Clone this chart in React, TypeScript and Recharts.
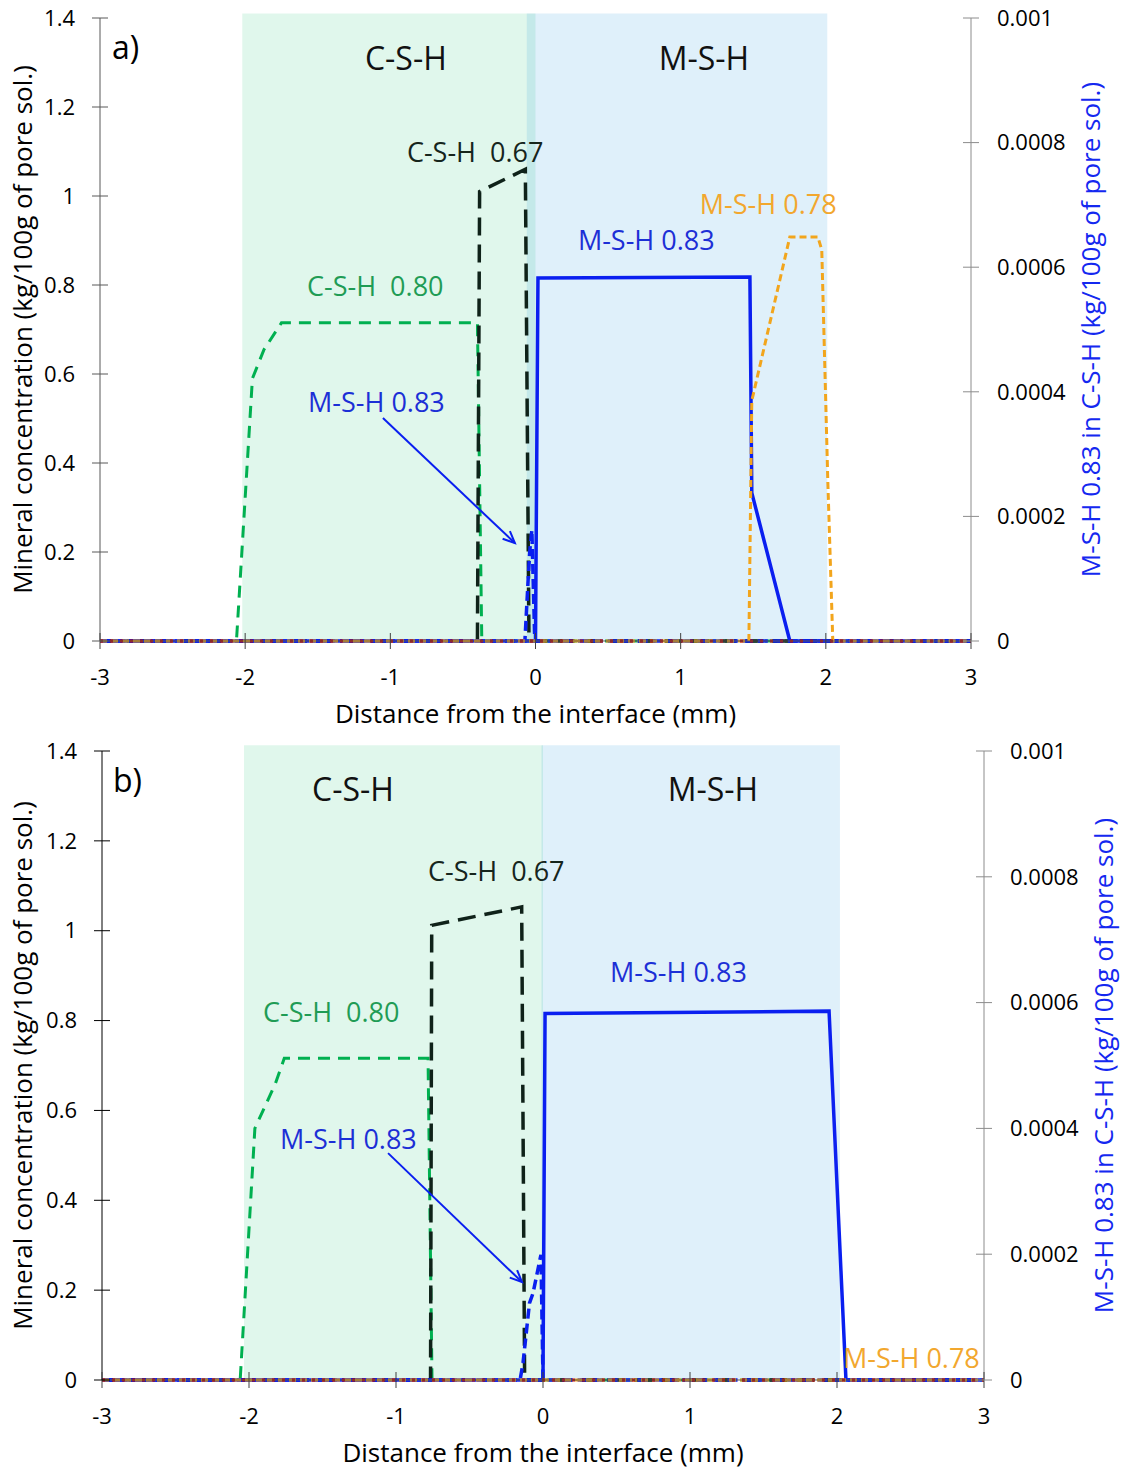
import React from 'react';
import {
  LineChart,
  Line,
  XAxis,
  YAxis,
  Label,
  ReferenceArea,
  ReferenceDot,
  ReferenceLine,
} from 'recharts';

// [x (mm), value] pairs
const xTicks = [-3, -2, -1, 0, 1, 2, 3];
const leftTicks = [0, 0.2, 0.4, 0.6, 0.8, 1, 1.2, 1.4];
const rightTicks = [0, 0.0002, 0.0004, 0.0006, 0.0008, 0.001];

// panel a)
const aCsh080 = [[-3, 0], [-2.06, 0], [-1.95, 0.59], [-1.87, 0.655], [-1.75, 0.715], [-0.4, 0.715], [-0.37, 0], [3, 0]];
const aCsh067 = [[-3, 0], [-0.4, 0], [-0.385, 1.01], [-0.07, 1.06], [-0.045, 0], [3, 0]];
const aMsh083 = [[-3, 0], [0, 0], [0.017, 0.816], [1.477, 0.818], [1.49, 0.333], [1.752, 0], [3, 0]];
const aMsh083InCsh = [[-3, 0], [-0.073, 0], [-0.052, 0.000093], [-0.039, 0.000146], [-0.025, 0.000178], [-0.005, 0], [3, 0]];
const aMsh078 = [[-3, 0], [1.47, 0], [1.49, 0.54], [1.752, 0.908], [1.945, 0.908], [1.972, 0.879], [2.014, 0.355], [2.048, 0], [3, 0]];
const aOther = [[-3, 0], [3, 0]];

// panel b)
const bCsh080 = [[-3, 0], [-2.06, 0], [-1.96, 0.56], [-1.82, 0.66], [-1.76, 0.716], [-0.782, 0.716], [-0.755, 0], [3, 0]];
const bCsh067 = [[-3, 0], [-0.765, 0], [-0.757, 1.012], [-0.145, 1.053], [-0.125, 0], [3, 0]];
const bMsh083 = [[-3, 0], [0, 0], [0.014, 0.816], [1.946, 0.821], [2.061, 0], [3, 0]];
const bMsh083InCsh = [[-3, 0], [-0.156, 0], [-0.136, 0.000027], [-0.092, 0.000122], [-0.068, 0.000138], [-0.014, 0.000199], [0, 0], [3, 0]];
const bMsh078 = [[-3, 0], [3, 0]];
const bOther = [[-3, 0], [3, 0]];

const toPts = (rows: number[][]) => rows.map(([x, y]) => ({ x, y }));

const FONT = '"Open Sans", "Noto Sans", sans-serif';
const TS = 8;

const GREEN = '#00b050';
const GREEN_TXT = '#1f9c55';
const BLACK_LINE = '#0f2219';
const BLUE = '#0a1ff0';
const BLUE_TXT = '#1c2fd6';
const ORANGE = '#f2a51c';
const ORANGE_TXT = '#f2a72e';
const RED = '#c00000';

function makeLeftTick(color: string, margin: number) {
  return (p: any) => (
    <g>
      <line x1={p.x + margin} x2={p.x + margin + 2 * TS} y1={p.y} y2={p.y} stroke={color} />
      <text x={p.x} y={p.y} dy="0.35em" textAnchor="end" fontSize={22} fill="#000">
        {p.payload.value}
      </text>
    </g>
  );
}

function makeRightTick(color: string, margin: number) {
  return (p: any) => (
    <g>
      <line x1={p.x - margin - 2 * TS} x2={p.x - margin} y1={p.y} y2={p.y} stroke={color} />
      <text x={p.x} y={p.y} dy="0.35em" textAnchor="start" fontSize={22} fill="#000">
        {p.payload.value}
      </text>
    </g>
  );
}

function makeBottomTick(color: string, margin: number) {
  return (p: any) => (
    <g>
      <line x1={p.x} x2={p.x} y1={p.y - margin} y2={p.y - margin - 2 * TS} stroke={color} />
      <text x={p.x} y={p.y} dy="0.35em" textAnchor="middle" fontSize={22} fill="#000">
        {p.payload.value}
      </text>
    </g>
  );
}

const vTitle = (text: string, dx: number, color: string) => (p: any) => {
  const vb = p.viewBox;
  const cx = vb.x + dx;
  const cy = vb.y + vb.height / 2;
  return (
    <text x={cx} y={cy} transform={`rotate(-90 ${cx} ${cy})`} textAnchor="middle" dominantBaseline="central" fontSize={26} fill={color}>
      {text}
    </text>
  );
};

const hTitle = (text: string, dy: number) => (p: any) => {
  const vb = p.viewBox;
  return (
    <text x={vb.x + vb.width / 2} y={vb.y + dy} textAnchor="middle" dominantBaseline="central" fontSize={26} fill="#000">
      {text}
    </text>
  );
};

const textShape = (text: string, color: string, size: number, anchor: string) => (p: any) => (
  <text x={p.cx} y={p.cy} textAnchor={anchor} dominantBaseline="central" fontSize={size} fill={color} style={{ whiteSpace: 'pre' }}>
    {text}
  </text>
);

const arrowShape = (p: any) => {
  const { x1, y1, x2, y2 } = p;
  const ang = Math.atan2(y2 - y1, x2 - x1);
  const len = 13;
  const a1 = ang + Math.PI - 0.42;
  const a2 = ang + Math.PI + 0.42;
  return (
    <g stroke={BLUE} strokeWidth={2} fill="none">
      <line x1={x1} y1={y1} x2={x2} y2={y2} />
      <polyline points={`${x2 + len * Math.cos(a1)},${y2 + len * Math.sin(a1)} ${x2},${y2} ${x2 + len * Math.cos(a2)},${y2 + len * Math.sin(a2)}`} />
    </g>
  );
};

type Ann = { t: string; x: number; y: number; c: string; s: number; a: string };

type PanelProps = {
  height: number;
  margin: { top: number; right: number; bottom: number; left: number };
  rightWidth: number;
  leftAxisColor: string;
  leftTitleDx: number;
  csh080: number[][];
  csh067: number[][];
  msh083: number[][];
  msh083InCsh: number[][];
  msh078: number[][];
  other: number[][];
  cshZone: [number, number];
  mshZone: [number, number];
  zoneTop: number;
  labels: Ann[];
  arrow: [{ x: number; y: number }, { x: number; y: number }];
};

function Panel(props: PanelProps) {
  const lm = 17;
  const rm = 18;
  const bm = 28;
  return (
    <LineChart width={1123} height={props.height} margin={props.margin}>
      <XAxis
        dataKey="x"
        type="number"
        domain={[-3, 3]}
        ticks={xTicks}
        interval={0}
        height={70}
        tickSize={TS}
        tickMargin={bm}
        tickLine={false}
        axisLine={{ stroke: '#595959' }}
        tick={makeBottomTick('#404040', bm)}
      >
        <Label content={hTitle('Distance from the interface (mm)', 72)} />
      </XAxis>
      <YAxis
        yAxisId="left"
        domain={[0, 1.4]}
        ticks={leftTicks}
        interval={0}
        width={60}
        tickSize={TS}
        tickMargin={lm}
        tickLine={false}
        axisLine={{ stroke: props.leftAxisColor }}
        tick={makeLeftTick(props.leftAxisColor, lm)}
      >
        <Label content={vTitle('Mineral concentration (kg/100g of pore sol.)', props.leftTitleDx, '#000')} />
      </YAxis>
      <YAxis
        yAxisId="right"
        orientation="right"
        domain={[0, 0.001]}
        ticks={rightTicks}
        interval={0}
        width={props.rightWidth}
        tickSize={TS}
        tickMargin={rm}
        tickLine={false}
        axisLine={{ stroke: '#8c8c8c' }}
        tick={makeRightTick('#8c8c8c', rm)}
      >
        <Label content={vTitle('M-S-H 0.83 in C-S-H (kg/100g of pore sol.)', 119, '#1428f0')} />
      </YAxis>

      <ReferenceArea yAxisId="left" x1={props.cshZone[0]} x2={props.cshZone[1]} y1={0} y2={props.zoneTop} fill="rgb(0,188,97)" fillOpacity={0.12} stroke="none" ifOverflow="visible" />
      <ReferenceArea yAxisId="left" x1={props.mshZone[0]} x2={props.mshZone[1]} y1={0} y2={props.zoneTop} fill="rgb(42,155,222)" fillOpacity={0.15} stroke="none" ifOverflow="visible" />

      <Line yAxisId="left" data={toPts(props.csh080)} dataKey="y" type="linear" stroke={GREEN} strokeWidth={3} strokeDasharray="12 8" dot={false} activeDot={false} isAnimationActive={false} />
      <Line yAxisId="left" data={toPts(props.csh067)} dataKey="y" type="linear" stroke={BLACK_LINE} strokeWidth={3.5} strokeDasharray="18 9" dot={false} activeDot={false} isAnimationActive={false} />
      <Line yAxisId="left" data={toPts(props.msh083)} dataKey="y" type="linear" stroke={BLUE} strokeWidth={3.5} dot={false} activeDot={false} isAnimationActive={false} />
      <Line yAxisId="right" data={toPts(props.msh083InCsh)} dataKey="y" type="linear" stroke={BLUE} strokeWidth={3.5} strokeDasharray="10 5" dot={false} activeDot={false} isAnimationActive={false} />
      <Line yAxisId="left" data={toPts(props.msh078)} dataKey="y" type="linear" stroke={ORANGE} strokeWidth={3} strokeDasharray="7 4" dot={false} activeDot={false} isAnimationActive={false} />
      <Line yAxisId="left" data={toPts(props.other)} dataKey="y" type="linear" stroke={RED} strokeWidth={3} strokeDasharray="3 7" dot={false} activeDot={false} isAnimationActive={false} />

      <ReferenceLine yAxisId="left" segment={props.arrow} stroke={BLUE} shape={arrowShape} ifOverflow="visible" />

      {props.labels.map((l, i) => (
        <ReferenceDot key={i} yAxisId="left" x={l.x} y={l.y} r={0} ifOverflow="visible" shape={textShape(l.t, l.c, l.s, l.a)} />
      ))}
    </LineChart>
  );
}

const aLabels: Ann[] = [
  { t: 'a)', x: -2.917, y: 1.335, c: '#000', s: 32, a: 'start' },
  { t: 'C-S-H', x: -0.893, y: 1.312, c: '#111', s: 32, a: 'middle' },
  { t: 'M-S-H', x: 1.16, y: 1.312, c: '#111', s: 32, a: 'middle' },
  { t: 'C-S-H  0.67', x: -0.886, y: 1.099, c: '#16251c', s: 27, a: 'start' },
  { t: 'M-S-H 0.78', x: 1.132, y: 0.984, c: ORANGE_TXT, s: 27, a: 'start' },
  { t: 'M-S-H 0.83', x: 0.292, y: 0.903, c: BLUE_TXT, s: 27, a: 'start' },
  { t: 'C-S-H  0.80', x: -1.574, y: 0.8, c: GREEN_TXT, s: 27, a: 'start' },
  { t: 'M-S-H 0.83', x: -1.567, y: 0.539, c: BLUE_TXT, s: 27, a: 'start' },
];

const bLabels: Ann[] = [
  { t: 'b)', x: -2.925, y: 1.337, c: '#000', s: 32, a: 'start' },
  { t: 'C-S-H', x: -1.293, y: 1.317, c: '#111', s: 32, a: 'middle' },
  { t: 'M-S-H', x: 1.156, y: 1.317, c: '#111', s: 32, a: 'middle' },
  { t: 'C-S-H  0.67', x: -0.782, y: 1.135, c: '#16251c', s: 27, a: 'start' },
  { t: 'M-S-H 0.83', x: 0.456, y: 0.91, c: BLUE_TXT, s: 27, a: 'start' },
  { t: 'C-S-H  0.80', x: -1.905, y: 0.821, c: GREEN_TXT, s: 27, a: 'start' },
  { t: 'M-S-H 0.83', x: -1.789, y: 0.538, c: BLUE_TXT, s: 27, a: 'start' },
  { t: 'M-S-H 0.78', x: 2.041, y: 0.049, c: ORANGE_TXT, s: 27, a: 'start' },
];

export default function App() {
  return (
    <div style={{ position: 'absolute', left: 0, top: 0, width: 1123, height: 1471, background: '#fff', fontFamily: FONT }}>
      <Panel
        height={730}
        margin={{ top: 18, right: 0, bottom: 19, left: 40 }}
        rightWidth={152}
        leftAxisColor="#595959"
        leftTitleDx={-18}
        csh080={aCsh080}
        csh067={aCsh067}
        msh083={aMsh083}
        msh083InCsh={aMsh083InCsh}
        msh078={aMsh078}
        other={aOther}
        cshZone={[-2.02, 0]}
        mshZone={[-0.06, 2.01]}
        zoneTop={1.41}
        labels={aLabels}
        arrow={[{ x: -1.051, y: 0.501 }, { x: -0.142, y: 0.22 }]}
      />
      <Panel
        height={741}
        margin={{ top: 21, right: 0, bottom: 21, left: 42 }}
        rightWidth={139}
        leftAxisColor="#000"
        leftTitleDx={-20}
        csh080={bCsh080}
        csh067={bCsh067}
        msh083={bMsh083}
        msh083InCsh={bMsh083InCsh}
        msh078={bMsh078}
        other={bOther}
        cshZone={[-2.034, 0]}
        mshZone={[-0.01, 2.02]}
        zoneTop={1.413}
        labels={bLabels}
        arrow={[{ x: -1.054, y: 0.505 }, { x: -0.143, y: 0.218 }]}
      />
    </div>
  );
}
